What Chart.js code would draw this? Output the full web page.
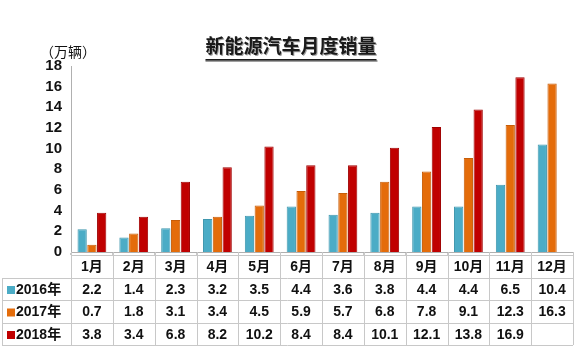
<!DOCTYPE html>
<html>
<head>
<meta charset="utf-8">
<script src="https://cdn.jsdelivr.net/npm/chart.js@4/dist/chart.umd.min.js"></script>
<style>
html,body{margin:0;padding:0;background:#fff;}
canvas{display:block;}
</style>
</head>
<body>
<canvas id="c" width="580" height="353" style="width:580px;height:353px"></canvas>
<script>
const months = ['1月','2月','3月','4月','5月','6月','7月','8月','9月','10月','11月','12月'];
const seriesNames = ['2016年','2017年','2018年'];
const sales2016 = [2.2,1.4,2.3,3.2,3.5,4.4,3.6,3.8,4.4,4.4,6.5,10.4];
const sales2017 = [0.7,1.8,3.1,3.4,4.5,5.9,5.7,6.8,7.8,9.1,12.3,16.3];
const sales2018 = [3.8,3.4,6.8,8.2,10.2,8.4,8.4,10.1,12.1,13.8,16.9,null];
const yTicks = [0,2,4,6,8,10,12,14,16,18];
const chartTitle = '新能源汽车月度销量';
const unitLabel = '（万辆）';

const colors = ['#4bacc6','#e46c0a','#c00000'];
const borders = ['#3f97ae','#c75d08','#a00000'];
const FONT = "'Liberation Sans', Arial, 'Noto Sans CJK SC', sans-serif";
const allSeries = [sales2016, sales2017, sales2018];

const tablePlugin = {
  id: 'tablePlugin',
  afterDraw(chart) {
    const ctx = chart.ctx;
    const ca = chart.chartArea;
    const x = chart.scales.x;
    const n = months.length;
    const w = ca.width / n;
    const rows = [255, 278, 300, 323, 345];
    const leftX = 2;
    ctx.save();
    // title
    ctx.font = "bold 19px " + FONT;
    ctx.textAlign = 'center';
    ctx.textBaseline = 'middle';
    const tx = 291, ty = 48;
    ctx.fillStyle = '#a0a0a0';
    ctx.fillText(chartTitle, tx + 1, ty + 1);
    ctx.fillStyle = '#1a1a1a';
    ctx.fillText(chartTitle, tx, ty);
    const tw = ctx.measureText(chartTitle).width;
    ctx.fillStyle = '#a0a0a0';
    ctx.fillRect(tx - tw / 2, 60, tw + 1, 2);
    ctx.fillStyle = '#1a1a1a';
    ctx.fillRect(tx - tw / 2, 59, tw, 1.5);
    // unit label
    ctx.font = "14px " + FONT;
    ctx.textAlign = 'left';
    ctx.fillStyle = '#111';
    ctx.fillText(unitLabel, 40, 53);

    // table grid
    ctx.strokeStyle = '#c8c8c8';
    ctx.lineWidth = 1;
    ctx.beginPath();
    for (let i = 0; i <= n; i++) {
      const px = Math.round(ca.left + i * w) + 0.5;
      ctx.moveTo(px, ca.bottom);
      ctx.lineTo(px, rows[4]);
    }
    ctx.moveTo(leftX + 0.5, rows[1]);
    ctx.lineTo(leftX + 0.5, rows[4]);
    ctx.moveTo(ca.left, rows[0] + 0.5);
    ctx.lineTo(ca.right, rows[0] + 0.5);
    for (let r = 1; r < rows.length; r++) {
      ctx.moveTo(leftX, rows[r] + 0.5);
      ctx.lineTo(ca.right, rows[r] + 0.5);
    }
    ctx.stroke();

    // header
    ctx.font = "bold 14px " + FONT;
    ctx.fillStyle = '#111';
    ctx.textAlign = 'center';
    ctx.textBaseline = 'middle';
    months.forEach((m, i) => {
      ctx.fillText(m, x.getPixelForValue(i), (rows[0] + rows[1]) / 2 + 1);
    });
    // rows
    allSeries.forEach((s, r) => {
      const cy = (rows[r + 1] + rows[r + 2]) / 2 + 1;
      ctx.fillStyle = colors[r];
      ctx.fillRect(7, cy - 4, 8, 8);
      ctx.fillStyle = '#111';
      ctx.textAlign = 'left';
      ctx.fillText(seriesNames[r], 16, cy);
      ctx.textAlign = 'center';
      s.forEach((v, i) => {
        if (v === null) return;
        ctx.fillText(v.toFixed(1), x.getPixelForValue(i), cy);
      });
    });
    ctx.restore();
  }
};

new Chart(document.getElementById('c'), {
  type: 'bar',
  data: {
    labels: months,
    datasets: allSeries.map((s, i) => ({
      label: seriesNames[i],
      data: s,
      backgroundColor: colors[i],
      borderColor: borders[i],
      borderWidth: 1,
      barPercentage: 0.95,
      categoryPercentage: 0.7
    }))
  },
  options: {
    responsive: false,
    animation: false,
    devicePixelRatio: 1,
    layout: { padding: { top: 66, right: 7, bottom: 101, left: 0 } },
    plugins: { legend: { display: false }, title: { display: false }, tooltip: { enabled: false } },
    scales: {
      x: {
        grid: { display: true, drawOnChartArea: false, drawTicks: true, tickLength: 3, color: '#c8c8c8' },
        border: { display: true, color: '#b0b0b0' },
        ticks: { display: false },
        afterFit(scale) { scale.height = 0; }
      },
      y: {
        min: 0, max: 18,
        afterBuildTicks(scale) { scale.ticks = yTicks.map(v => ({ value: v })); },
        grid: { display: false, drawTicks: false },
        border: { display: true, color: '#b0b0b0' },
        ticks: { color: '#111', padding: 9, autoSkip: false, font: { family: FONT, size: 15, weight: 'bold' } },
        afterFit(scale) { scale.width = 71; }
      }
    }
  },
  plugins: [tablePlugin]
});
</script>
</body>
</html>
